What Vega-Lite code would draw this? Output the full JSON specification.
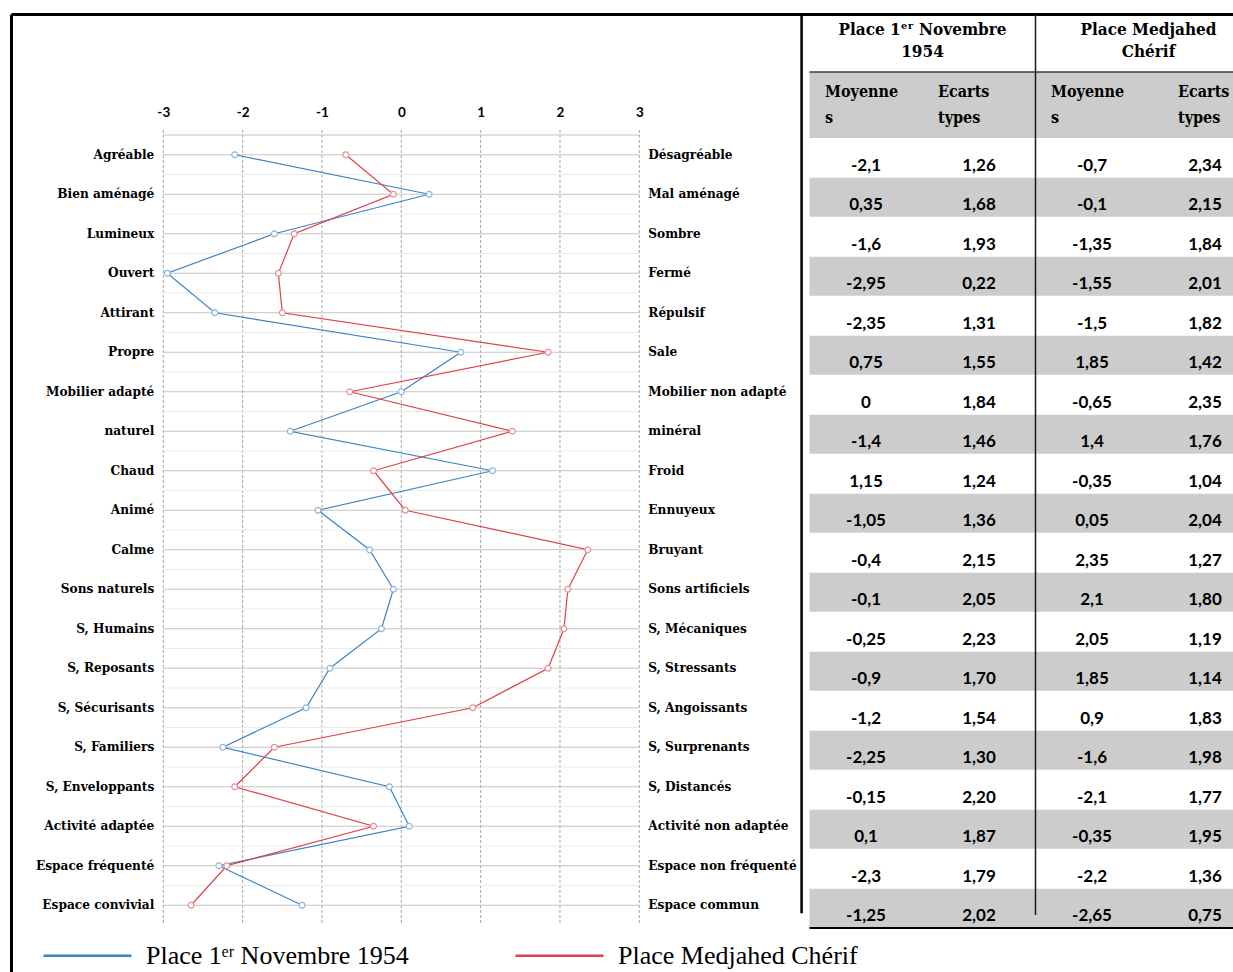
{
  "$schema": "https://vega.github.io/schema/vega-lite/v6.json",
  "width": 1222,
  "height": 958,
  "autosize": {"type": "none"},
  "padding": {"left": 11, "top": 14, "right": 0, "bottom": 0},
  "background": "white",
  "config": {
    "view": {"stroke": null},
    "locale": {"number": {"decimal": ",", "thousands": ".", "grouping": [3], "currency": ["", " €"], "minus": "-"}}
  },
  "datasets": {
    "rows": [
      {"i": 1, "left": "Agréable", "right": "Désagréable", "p1": -2.1, "s1": 1.26, "p2": -0.7, "s2": 2.34},
      {"i": 2, "left": "Bien aménagé", "right": "Mal aménagé", "p1": 0.35, "s1": 1.68, "p2": -0.1, "s2": 2.15},
      {"i": 3, "left": "Lumineux", "right": "Sombre", "p1": -1.6, "s1": 1.93, "p2": -1.35, "s2": 1.84},
      {"i": 4, "left": "Ouvert", "right": "Fermé", "p1": -2.95, "s1": 0.22, "p2": -1.55, "s2": 2.01},
      {"i": 5, "left": "Attirant", "right": "Répulsif", "p1": -2.35, "s1": 1.31, "p2": -1.5, "s2": 1.82},
      {"i": 6, "left": "Propre", "right": "Sale", "p1": 0.75, "s1": 1.55, "p2": 1.85, "s2": 1.42},
      {"i": 7, "left": "Mobilier adapté", "right": "Mobilier non adapté", "p1": 0, "s1": 1.84, "p2": -0.65, "s2": 2.35},
      {"i": 8, "left": "naturel", "right": "minéral", "p1": -1.4, "s1": 1.46, "p2": 1.4, "s2": 1.76},
      {"i": 9, "left": "Chaud", "right": "Froid", "p1": 1.15, "s1": 1.24, "p2": -0.35, "s2": 1.04},
      {"i": 10, "left": "Animé", "right": "Ennuyeux", "p1": -1.05, "s1": 1.36, "p2": 0.05, "s2": 2.04},
      {"i": 11, "left": "Calme", "right": "Bruyant", "p1": -0.4, "s1": 2.15, "p2": 2.35, "s2": 1.27},
      {"i": 12, "left": "Sons naturels", "right": "Sons artificiels", "p1": -0.1, "s1": 2.05, "p2": 2.1, "s2": 1.80},
      {"i": 13, "left": "S, Humains", "right": "S, Mécaniques", "p1": -0.25, "s1": 2.23, "p2": 2.05, "s2": 1.19},
      {"i": 14, "left": "S, Reposants", "right": "S, Stressants", "p1": -0.9, "s1": 1.70, "p2": 1.85, "s2": 1.14},
      {"i": 15, "left": "S, Sécurisants", "right": "S, Angoissants", "p1": -1.2, "s1": 1.54, "p2": 0.9, "s2": 1.83},
      {"i": 16, "left": "S, Familiers", "right": "S, Surprenants", "p1": -2.25, "s1": 1.30, "p2": -1.6, "s2": 1.98},
      {"i": 17, "left": "S, Enveloppants", "right": "S, Distancés", "p1": -0.15, "s1": 2.20, "p2": -2.1, "s2": 1.77},
      {"i": 18, "left": "Activité adaptée", "right": "Activité non adaptée", "p1": 0.1, "s1": 1.87, "p2": -0.35, "s2": 1.95},
      {"i": 19, "left": "Espace fréquenté", "right": "Espace non fréquenté", "p1": -2.3, "s1": 1.79, "p2": -2.2, "s2": 1.36},
      {"i": 20, "left": "Espace convivial", "right": "Espace commun", "p1": -1.25, "s1": 2.02, "p2": -2.65, "s2": 0.75}
    ],
    "ticks": [{"t": -3}, {"t": -2}, {"t": -1}, {"t": 0}, {"t": 1}, {"t": 2}, {"t": 3}],
    "head1": [
      {"col": 1.5, "t": ["Place 1ᵉʳ Novembre", "1954"]},
      {"col": 3.5, "t": ["Place Medjahed", "Chérif"]}
    ],
    "head2": [
      {"col": 1, "t": ["Moyenne", "s"]},
      {"col": 2, "t": ["Ecarts", "types"]},
      {"col": 3, "t": ["Moyenne", "s"]},
      {"col": 4, "t": ["Ecarts", "types"]}
    ]
  },
  "layer": [
    {
      "layer": [
        {
          "data": {"name": "ticks"},
          "mark": {"type": "rule", "stroke": "#a3a3a3", "strokeWidth": 1, "strokeDash": [3, 2]},
          "encoding": {
            "x": {"field": "t", "type": "quantitative", "scale": {"domain": [-4.9198, 10.4836], "nice": false, "zero": false},
              "axis": {"orient": "top", "offset": -117, "values": [-3, -2, -1, 0, 1, 2, 3], "format": "~g", "grid": false, "domain": false, "ticks": false, "tickSize": 0, "labelPadding": 12, "labelFont": "Lato", "labelFontWeight": "bold", "labelFontSize": 13.5, "labelColor": "#000", "title": null}},
            "y": {"datum": 0.373, "type": "quantitative", "scale": {"domain": [-2.5633, 21.6899], "reverse": true, "nice": false, "zero": false},
              "axis": {"orient": "left", "offset": 0, "domain": true, "domainColor": "#000", "domainWidth": 3, "labels": false, "ticks": false, "grid": false, "title": null}},
            "y2": {"datum": 20.5}
          }
        },
        {
          "data": {"name": "rows"},
          "mark": {"type": "rule", "strokeWidth": 1, "yOffset": -19.75},
          "encoding": {
            "x": {"datum": -3, "type": "quantitative", "scale": {"domain": [-4.9198, 10.4836], "nice": false, "zero": false}},
            "x2": {"datum": 3},
            "y": {"field": "i", "type": "quantitative", "scale": {"domain": [-2.5633, 21.6899], "reverse": true, "nice": false, "zero": false}},
            "color": {"condition": {"test": "datum.i == 1", "value": "#c4c4c4"}, "value": "#ebebeb"}
          }
        },
        {
          "data": {"name": "rows"},
          "mark": {"type": "rule", "strokeWidth": 1, "color": "#c4c4c4"},
          "encoding": {
            "x": {"datum": -3, "type": "quantitative", "scale": {"domain": [-4.9198, 10.4836], "nice": false, "zero": false}},
            "x2": {"datum": 3},
            "y": {"field": "i", "type": "quantitative", "scale": {"domain": [-2.5633, 21.6899], "reverse": true, "nice": false, "zero": false}}
          }
        },
        {
          "data": {"name": "rows"},
          "transform": [{"fold": ["p1", "p2"], "as": ["serie", "v"]}],
          "mark": {"type": "line", "strokeWidth": 1.2},
          "encoding": {
            "x": {"field": "v", "type": "quantitative", "scale": {"domain": [-4.9198, 10.4836], "nice": false, "zero": false}},
            "y": {"field": "i", "type": "quantitative", "scale": {"domain": [-2.5633, 21.6899], "reverse": true, "nice": false, "zero": false}},
            "order": {"field": "i", "type": "quantitative"},
            "color": {"field": "serie", "type": "nominal", "scale": {"domain": ["p1", "p2"], "range": ["#3b84c4", "#e04048"]},
              "legend": {"orient": "none", "legendX": 31, "legendY": 896, "direction": "horizontal", "title": null, "symbolType": "stroke", "symbolSize": 7744, "symbolStrokeWidth": 2.5, "labelFont": "Liberation Serif", "labelFontSize": 26, "labelColor": "#000", "labelOffset": 13, "columnPadding": 101, "labelLimit": 600,
                "labelExpr": "datum.value == 'p1' ? 'Place 1ᵉʳ Novembre 1954' : 'Place Medjahed Chérif'"}}
          }
        },
        {
          "data": {"name": "rows"},
          "transform": [{"fold": ["p1", "p2"], "as": ["serie", "v"]}],
          "mark": {"type": "point", "shape": "circle", "filled": true, "fill": "white", "size": 34, "strokeWidth": 1.2, "opacity": 1},
          "encoding": {
            "x": {"field": "v", "type": "quantitative", "scale": {"domain": [-4.9198, 10.4836], "nice": false, "zero": false}},
            "y": {"field": "i", "type": "quantitative", "scale": {"domain": [-2.5633, 21.6899], "reverse": true, "nice": false, "zero": false}},
            "stroke": {"field": "serie", "type": "nominal", "scale": {"domain": ["p1", "p2"], "range": ["#8fb3db", "#e39096"]}, "legend": null}
          }
        },
        {
          "data": {"name": "rows"},
          "mark": {"type": "text", "align": "right", "baseline": "middle", "dx": -9, "font": "DejaVu Serif Condensed, DejaVu Serif", "fontWeight": "bold", "fontSize": 13.5, "color": "#000"},
          "encoding": {
            "x": {"datum": -3, "type": "quantitative", "scale": {"domain": [-4.9198, 10.4836], "nice": false, "zero": false}},
            "y": {"field": "i", "type": "quantitative", "scale": {"domain": [-2.5633, 21.6899], "reverse": true, "nice": false, "zero": false}},
            "text": {"field": "left"}
          }
        },
        {
          "data": {"name": "rows"},
          "mark": {"type": "text", "align": "left", "baseline": "middle", "dx": 9, "font": "DejaVu Serif Condensed, DejaVu Serif", "fontWeight": "bold", "fontSize": 13.5, "color": "#000"},
          "encoding": {
            "x": {"datum": 3, "type": "quantitative", "scale": {"domain": [-4.9198, 10.4836], "nice": false, "zero": false}},
            "y": {"field": "i", "type": "quantitative", "scale": {"domain": [-2.5633, 21.6899], "reverse": true, "nice": false, "zero": false}},
            "text": {"field": "right"}
          }
        }
      ]
    },
    {
      "layer": [
        {
          "data": {"values": [{}]},
          "mark": {"type": "rect", "color": "#cccccc"},
          "encoding": {
            "x": {"datum": 0.5, "type": "quantitative", "scale": {"domain": [-6.5664, 4.2478], "nice": false, "zero": false},
              "axis": {"orient": "top", "offset": 0, "domain": true, "domainColor": "#000", "domainWidth": 3, "labels": false, "ticks": false, "grid": false, "title": null}},
            "x2": {"datum": 4.25},
            "y": {"datum": -1.095, "type": "quantitative", "scale": {"domain": [-2.5633, 21.6899], "reverse": true, "nice": false, "zero": false}},
            "y2": {"datum": 0.576}
          }
        },
        {
          "data": {"name": "rows"},
          "transform": [{"filter": "datum.i % 2 == 0"}],
          "mark": {"type": "rule", "color": "#cccccc", "strokeWidth": 39, "yOffset": 3},
          "encoding": {
            "x": {"datum": 0.5, "type": "quantitative", "scale": {"domain": [-6.5664, 4.2478], "nice": false, "zero": false}},
            "x2": {"datum": 4.25},
            "y": {"field": "i", "type": "quantitative", "scale": {"domain": [-2.5633, 21.6899], "reverse": true, "nice": false, "zero": false}}
          }
        },
        {
          "data": {"values": [{}]},
          "mark": {"type": "rule", "color": "#000", "strokeWidth": 2.5},
          "encoding": {
            "x": {"datum": 0.43, "type": "quantitative", "scale": {"domain": [-6.5664, 4.2478], "nice": false, "zero": false}},
            "y": {"datum": -2.5633, "type": "quantitative", "scale": {"domain": [-2.5633, 21.6899], "reverse": true, "nice": false, "zero": false}},
            "y2": {"datum": 20.2}
          }
        },
        {
          "data": {"values": [{}]},
          "mark": {"type": "rule", "color": "#1a1a1a", "strokeWidth": 1.5},
          "encoding": {
            "x": {"datum": 2.5, "type": "quantitative", "scale": {"domain": [-6.5664, 4.2478], "nice": false, "zero": false}},
            "y": {"datum": -2.5633, "type": "quantitative", "scale": {"domain": [-2.5633, 21.6899], "reverse": true, "nice": false, "zero": false}},
            "y2": {"datum": 20.25}
          }
        },
        {
          "data": {"values": [{}]},
          "mark": {"type": "rule", "color": "#3a3a3a", "strokeWidth": 1.5},
          "encoding": {
            "x": {"datum": 0.5, "type": "quantitative", "scale": {"domain": [-6.5664, 4.2478], "nice": false, "zero": false}},
            "x2": {"datum": 4.25},
            "y": {"datum": -1.095, "type": "quantitative", "scale": {"domain": [-2.5633, 21.6899], "reverse": true, "nice": false, "zero": false}}
          }
        },
        {
          "data": {"values": [{}]},
          "mark": {"type": "rule", "color": "#000", "strokeWidth": 2.2},
          "encoding": {
            "x": {"datum": 0.5, "type": "quantitative", "scale": {"domain": [-6.5664, 4.2478], "nice": false, "zero": false}},
            "x2": {"datum": 4.25},
            "y": {"datum": 20.576, "type": "quantitative", "scale": {"domain": [-2.5633, 21.6899], "reverse": true, "nice": false, "zero": false}}
          }
        },
        {
          "data": {"name": "head1"},
          "mark": {"type": "text", "align": "center", "baseline": "top", "lineHeight": 22, "font": "DejaVu Serif Condensed, DejaVu Serif", "fontWeight": "bold", "fontSize": 17, "color": "#000"},
          "encoding": {
            "x": {"field": "col", "type": "quantitative", "scale": {"domain": [-6.5664, 4.2478], "nice": false, "zero": false}},
            "y": {"datum": -2.361, "type": "quantitative", "scale": {"domain": [-2.5633, 21.6899], "reverse": true, "nice": false, "zero": false}},
            "text": {"field": "t"}
          }
        },
        {
          "data": {"name": "head2"},
          "transform": [{"filter": "datum.col < 4"}],
          "mark": {"type": "text", "align": "left", "baseline": "top", "dx": -41, "lineHeight": 26, "font": "DejaVu Serif Condensed, DejaVu Serif", "fontWeight": "bold", "fontSize": 16, "color": "#000"},
          "encoding": {
            "x": {"field": "col", "type": "quantitative", "scale": {"domain": [-6.5664, 4.2478], "nice": false, "zero": false}},
            "y": {"datum": -0.791, "type": "quantitative", "scale": {"domain": [-2.5633, 21.6899], "reverse": true, "nice": false, "zero": false}},
            "text": {"field": "t"}
          }
        },
        {
          "data": {"name": "head2"},
          "transform": [{"filter": "datum.col == 4"}],
          "mark": {"type": "text", "align": "left", "baseline": "top", "dx": -27, "lineHeight": 26, "font": "DejaVu Serif Condensed, DejaVu Serif", "fontWeight": "bold", "fontSize": 16, "color": "#000"},
          "encoding": {
            "x": {"field": "col", "type": "quantitative", "scale": {"domain": [-6.5664, 4.2478], "nice": false, "zero": false}},
            "y": {"datum": -0.791, "type": "quantitative", "scale": {"domain": [-2.5633, 21.6899], "reverse": true, "nice": false, "zero": false}},
            "text": {"field": "t"}
          }
        },
        {
          "data": {"name": "rows"},
          "mark": {"type": "text", "align": "center", "baseline": "middle", "dy": 11, "font": "Lato", "fontWeight": "bold", "fontSize": 17, "color": "#000"},
          "encoding": {
            "x": {"datum": 1, "type": "quantitative", "scale": {"domain": [-6.5664, 4.2478], "nice": false, "zero": false}},
            "y": {"field": "i", "type": "quantitative", "scale": {"domain": [-2.5633, 21.6899], "reverse": true, "nice": false, "zero": false}},
            "text": {"field": "p1", "type": "quantitative", "format": "~g"}
          }
        },
        {
          "data": {"name": "rows"},
          "mark": {"type": "text", "align": "center", "baseline": "middle", "dy": 11, "font": "Lato", "fontWeight": "bold", "fontSize": 17, "color": "#000"},
          "encoding": {
            "x": {"datum": 2, "type": "quantitative", "scale": {"domain": [-6.5664, 4.2478], "nice": false, "zero": false}},
            "y": {"field": "i", "type": "quantitative", "scale": {"domain": [-2.5633, 21.6899], "reverse": true, "nice": false, "zero": false}},
            "text": {"field": "s1", "type": "quantitative", "format": ".2f"}
          }
        },
        {
          "data": {"name": "rows"},
          "mark": {"type": "text", "align": "center", "baseline": "middle", "dy": 11, "font": "Lato", "fontWeight": "bold", "fontSize": 17, "color": "#000"},
          "encoding": {
            "x": {"datum": 3, "type": "quantitative", "scale": {"domain": [-6.5664, 4.2478], "nice": false, "zero": false}},
            "y": {"field": "i", "type": "quantitative", "scale": {"domain": [-2.5633, 21.6899], "reverse": true, "nice": false, "zero": false}},
            "text": {"field": "p2", "type": "quantitative", "format": "~g"}
          }
        },
        {
          "data": {"name": "rows"},
          "mark": {"type": "text", "align": "center", "baseline": "middle", "dy": 11, "font": "Lato", "fontWeight": "bold", "fontSize": 17, "color": "#000"},
          "encoding": {
            "x": {"datum": 4, "type": "quantitative", "scale": {"domain": [-6.5664, 4.2478], "nice": false, "zero": false}},
            "y": {"field": "i", "type": "quantitative", "scale": {"domain": [-2.5633, 21.6899], "reverse": true, "nice": false, "zero": false}},
            "text": {"field": "s2", "type": "quantitative", "format": ".2f"}
          }
        }
      ]
    }
  ],
  "resolve": {"scale": {"x": "independent"}}
}
